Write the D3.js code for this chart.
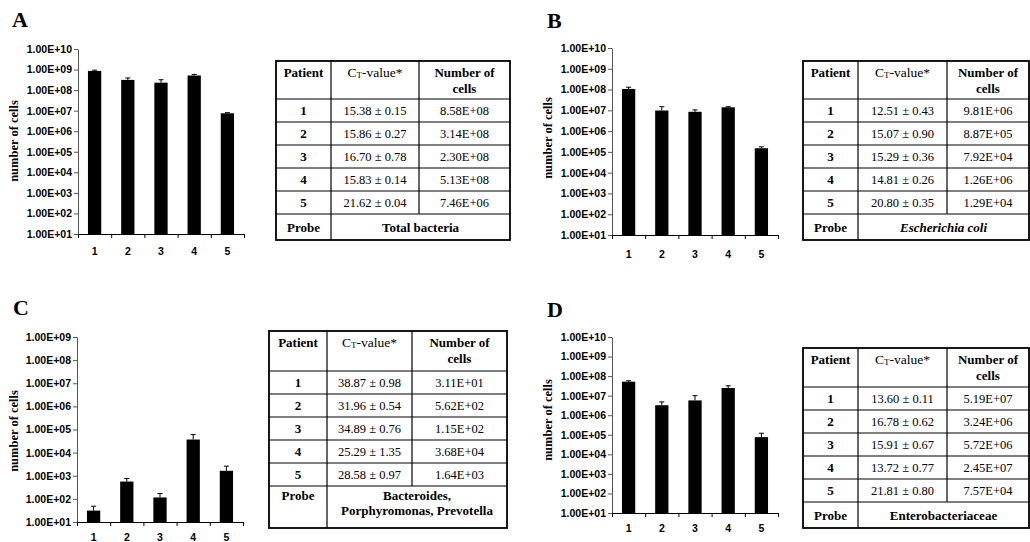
<!DOCTYPE html>
<html>
<head>
<meta charset="utf-8">
<script src="https://cdn.jsdelivr.net/npm/d3@7"></script>
<style>
  body { margin: 0; background: #fff; }
  svg { font-family: "Liberation Serif", "Times New Roman", serif; }
  .tickLabels text { font-weight: bold; font-size: 10.5px; fill: #000; }
  .yAxis path, .yAxis line { stroke: #555; }
  .xAxis path, .xAxis line { stroke: #000; }
</style>
</head>
<body>
<svg id="fig" width="1030" height="542"></svg>
<script>
const patients = ['1', '2', '3', '4', '5'];

const ticks10 = ['1.00E+01', '1.00E+02', '1.00E+03', '1.00E+04', '1.00E+05',
  '1.00E+06', '1.00E+07', '1.00E+08', '1.00E+09', '1.00E+10'];
const ticks9 = ticks10.slice(0, 9);

// bar tops and upper ends of the error bars
const barsA = [8.58e8, 3.14e8, 2.30e8, 5.13e8, 7.46e6];
const errA = [9.3e8, 3.9e8, 3.2e8, 5.8e8, 8.0e6];
const barsB = [1.07e8, 9.8e6, 8.5e6, 1.4e7, 1.5e5];
const errB = [1.3e8, 1.5e7, 1.05e7, 1.5e7, 1.75e5];
const barsC = [3.11e1, 5.62e2, 1.15e2, 3.68e4, 1.64e3];
const errC = [48, 760, 170, 6.0e4, 2.6e3];
const barsD = [5.19e7, 3.24e6, 5.72e6, 2.45e7, 7.57e4];
const errD = [5.8e7, 4.8e6, 1.0e7, 3.2e7, 1.2e5];

// table contents
const ctA = ['15.38 ± 0.15', '15.86 ± 0.27', '16.70 ± 0.78', '15.83 ± 0.14', '21.62 ± 0.04'];
const numA = ['8.58E+08', '3.14E+08', '2.30E+08', '5.13E+08', '7.46E+06'];
const ctB = ['12.51 ± 0.43', '15.07 ± 0.90', '15.29 ± 0.36', '14.81 ± 0.26', '20.80 ± 0.35'];
const numB = ['9.81E+06', '8.87E+05', '7.92E+04', '1.26E+06', '1.29E+04'];
const ctC = ['38.87 ± 0.98', '31.96 ± 0.54', '34.89 ± 0.76', '25.29 ± 1.35', '28.58 ± 0.97'];
const numC = ['3.11E+01', '5.62E+02', '1.15E+02', '3.68E+04', '1.64E+03'];
const ctD = ['13.60 ± 0.11', '16.78 ± 0.62', '15.91 ± 0.67', '13.72 ± 0.77', '21.81 ± 0.80'];
const numD = ['5.19E+07', '3.24E+06', '5.72E+06', '2.45E+07', '7.57E+04'];

const probeA = ['Total bacteria'];
const probeB = ['Escherichia coli'];
const probeC = ['Bacteroides,', 'Porphyromonas, Prevotella'];
const probeD = ['Enterobacteriaceae'];

const svg = d3.select('#fig');

function drawChart(p) {
  const g = svg.append('g').attr('class', 'chart' + p.letter);

  g.append('text')
    .attr('x', p.letterX)
    .attr('y', p.letterY)
    .style('font-size', '22px')
    .style('font-weight', 'bold')
    .text(p.letter);

  const yScale = d3.scaleLog()
    .domain([+p.ticks[0], +p.ticks[p.ticks.length - 1]])
    .range([p.yBot, p.yTop]);

  const xBand = d3.scaleBand()
    .domain(patients)
    .range([p.x0, p.x1])
    .paddingInner(0.6)
    .paddingOuter(0.3);

  const xEdges = d3.scaleLinear()
    .domain([0, patients.length])
    .range([p.x0, p.x1]);

  const yAxis = d3.axisLeft(yScale)
    .tickValues(p.ticks.map(Number))
    .tickFormat((d, i) => p.ticks[i])
    .tickSize(4)
    .tickSizeOuter(0)
    .tickPadding(2);

  g.append('g')
    .attr('class', 'yAxis tickLabels')
    .attr('transform', `translate(${p.x0},0)`)
    .call(yAxis);

  // bars
  g.selectAll('.bar')
    .data(p.bars)
    .join('rect')
    .attr('class', 'bar')
    .attr('x', (d, i) => xBand(patients[i]))
    .attr('width', xBand.bandwidth())
    .attr('y', (d) => yScale(d))
    .attr('height', (d) => p.yBot - yScale(d))
    .style('fill', '#000');

  // upper error bars
  const errGroup = g.append('g').attr('class', 'errors')
    .style('stroke', '#000').style('stroke-width', 1);
  p.err.forEach((e, i) => {
    const cx = xBand(patients[i]) + xBand.bandwidth() / 2;
    errGroup.append('line')
      .attr('x1', cx).attr('x2', cx)
      .attr('y1', yScale(p.bars[i])).attr('y2', yScale(e));
    errGroup.append('line')
      .attr('x1', cx - 2.5).attr('x2', cx + 2.5)
      .attr('y1', yScale(e)).attr('y2', yScale(e));
  });

  const xAxis = d3.axisBottom(xEdges)
    .tickValues(d3.range(patients.length + 1))
    .tickFormat('')
    .tickSize(4)
    .tickSizeOuter(0);

  g.append('g')
    .attr('class', 'xAxis')
    .attr('transform', `translate(0,${p.yBot})`)
    .call(xAxis);

  const catAxis = d3.axisBottom(xBand).tickSize(0).tickPadding(p.catPad);
  const cat = g.append('g')
    .attr('class', 'tickLabels')
    .attr('transform', `translate(0,${p.yBot})`)
    .call(catAxis);
  cat.select('.domain').remove();

  g.append('text')
    .attr('transform', `translate(${p.labelX},${p.labelY}) rotate(-90)`)
    .attr('text-anchor', 'middle')
    .attr('dominant-baseline', 'central')
    .style('font-size', '12.5px')
    .style('font-weight', 'bold')
    .text('number of cells');

  drawTable(p.table, p.ct, p.num, p.probe, p.italic);
}

function drawTable(t, ct, num, probe, italic) {
  const g = svg.append('g').attr('class', 'table');
  const [xa, xb, xc, xd] = t.x;
  const probeTop = t.head + t.rowH * patients.length;

  const lines = g.append('g').style('stroke', '#000').style('stroke-width', 1.2);
  d3.range(patients.length + 1).forEach((i) => {
    const yy = t.head + t.rowH * i;
    lines.append('line').attr('x1', xa).attr('x2', xd).attr('y1', yy).attr('y2', yy);
  });
  lines.append('line').attr('x1', xb).attr('x2', xb).attr('y1', t.top).attr('y2', t.bottom);
  lines.append('line').attr('x1', xc).attr('x2', xc).attr('y1', t.top).attr('y2', probeTop);

  g.append('rect')
    .attr('x', xa).attr('y', t.top)
    .attr('width', xd - xa).attr('height', t.bottom - t.top)
    .style('fill', 'none').style('stroke', '#000').style('stroke-width', 1.8);

  const txt = (x, y, s, bold) => g.append('text')
    .attr('x', x).attr('y', y)
    .attr('text-anchor', 'middle')
    .attr('dominant-baseline', 'central')
    .style('font-size', bold ? '13px' : '12.5px')
    .style('font-weight', bold ? 'bold' : 'normal')
    .text(s);

  const c1 = (xa + xb) / 2;
  const c2 = (xb + xc) / 2;
  const c3 = (xc + xd) / 2;

  txt(c1, t.top + 11, 'Patient', true);
  const ctHead = txt(c2, t.top + 11, '', false).style('font-size', '13.5px');
  ctHead.append('tspan').text('C');
  ctHead.append('tspan').attr('dy', 3).style('font-size', '9px').text('T');
  ctHead.append('tspan').attr('dy', -3).text('-value*');
  txt(c3, t.top + 11, 'Number of', true);
  txt(c3, t.top + 27, 'cells', true);

  patients.forEach((pt, i) => {
    const cy = t.head + t.rowH * (i + 0.5);
    txt(c1, cy, pt, true);
    txt(c2, cy, ct[i], false);
    txt(c3, cy, num[i], false);
  });

  const probeMid = (xb + xd) / 2;
  if (probe.length === 1) {
    const cy = (probeTop + t.bottom) / 2;
    txt(c1, cy, 'Probe', true);
    txt(probeMid, cy, probe[0], true).style('font-style', italic ? 'italic' : 'normal');
  } else {
    txt(c1, probeTop + 9, 'Probe', true);
    probe.forEach((s, i) => txt(probeMid, probeTop + 9 + 15 * i, s, true));
  }
}

drawChart({
  letter: 'A', letterX: 12, letterY: 27,
  x0: 78, x1: 244, yTop: 49, yBot: 234, ticks: ticks10, catPad: 14,
  labelX: 14, labelY: 141,
  bars: barsA, err: errA, ct: ctA, num: numA, probe: probeA,
  table: { x: [276, 331, 419, 510], top: 61, head: 99, rowH: 23, bottom: 240 }
});

drawChart({
  letter: 'B', letterX: 547, letterY: 28,
  x0: 612, x1: 778, yTop: 48, yBot: 235, ticks: ticks10, catPad: 16,
  labelX: 548, labelY: 138,
  bars: barsB, err: errB, ct: ctB, num: numB, probe: probeB, italic: true,
  table: { x: [803, 858, 947, 1029], top: 61, head: 99, rowH: 23, bottom: 240 }
});

drawChart({
  letter: 'C', letterX: 13, letterY: 315,
  x0: 77, x1: 243, yTop: 337, yBot: 522, ticks: ticks9, catPad: 12,
  labelX: 14, labelY: 431,
  bars: barsC, err: errC, ct: ctC, num: numC, probe: probeC,
  table: { x: [269, 327, 412, 507], top: 331, head: 371, rowH: 23, bottom: 528 }
});

drawChart({
  letter: 'D', letterX: 547, letterY: 317,
  x0: 612, x1: 778, yTop: 337, yBot: 513, ticks: ticks10, catPad: 12,
  labelX: 548, labelY: 420,
  bars: barsD, err: errD, ct: ctD, num: numD, probe: probeD,
  table: { x: [803, 858, 947, 1029], top: 348, head: 387, rowH: 23, bottom: 528 }
});
</script>
</body>
</html>
